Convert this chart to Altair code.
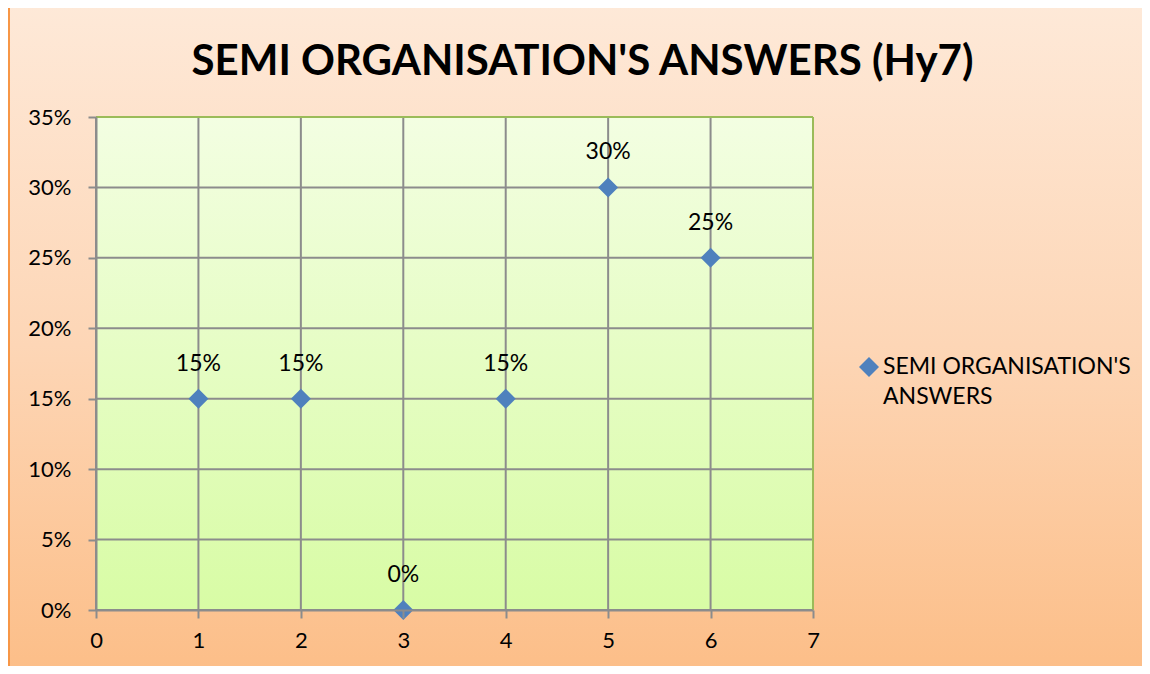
import altair as alt
import pandas as pd

# ---- data ----
questions = [1, 2, 3, 4, 5, 6]
shares = [0.15, 0.15, 0.00, 0.15, 0.30, 0.25]
series_name = "SEMI ORGANISATION'S ANSWERS"
legend_lines = [series_name[:19], series_name[20:]]
x_ticks = [0, 1, 2, 3, 4, 5, 6, 7]
y_ticks = [0.00, 0.05, 0.10, 0.15, 0.20, 0.25, 0.30, 0.35]
title_text = "SEMI ORGANISATION'S ANSWERS (Hy7)"

# ---- layout / style ----
W, H = 717, 493
PAD = {"left": 88, "top": 109, "right": 329, "bottom": 56}
FONT = "Lato"
GRID = "#8C8C8C"
GREEN = "#9BBB59"
BLUE = "#4F81BD"

df = pd.DataFrame({"q": questions, "share": shares,
                   "series": [series_name] * len(questions)})
one = pd.DataFrame({"k": [0]})
xt = pd.DataFrame({"v": x_ticks})
yt = pd.DataFrame({"v": y_ticks})

xs = alt.Scale(domain=[0, 7], nice=False, zero=False)
ys = alt.Scale(domain=[0, 0.35], nice=False)

axis_common = dict(
    grid=False, domainColor=GRID, domainWidth=2, tickColor=GRID, tickWidth=2,
    tickSize=8, labelFont=FONT, labelFontSize=22, labelColor="black",
    labelFlush=False, title=None, zindex=1,
)
x_axis = alt.Axis(values=x_ticks, labelPadding=12, **axis_common)
y_axis = alt.Axis(values=y_ticks, format=".0%", labelPadding=17, **axis_common)

outer_grad = alt.LinearGradient(
    gradient="linear", x1=0, x2=0, y1=0, y2=1,
    stops=[alt.GradientStop(offset=0, color="#FEE9D8"),
           alt.GradientStop(offset=0.5, color="#FDD6B6"),
           alt.GradientStop(offset=1, color="#FCBD86")])
plot_grad = alt.LinearGradient(
    gradient="linear", x1=0, x2=0, y1=0, y2=1,
    stops=[alt.GradientStop(offset=0, color="#F3FEE2"),
           alt.GradientStop(offset=1, color="#D8FCA5")])

outer_bg = alt.Chart(one).mark_rect(
    color=outer_grad, stroke="#F79646", strokeWidth=2
).encode(
    x=alt.value(-PAD["left"] + 1), x2=alt.value(W + PAD["right"] + 20),
    y=alt.value(-PAD["top"] - 3), y2=alt.value(H + PAD["bottom"] + 20),
)

plot_bg = alt.Chart(one).mark_rect(color=plot_grad).encode(
    x=alt.datum(0, scale=xs, axis=x_axis), x2=alt.datum(7),
    y=alt.datum(0, scale=ys, axis=y_axis), y2=alt.datum(0.35),
)

vgrid = alt.Chart(xt).mark_rule(color=GRID, strokeWidth=2).encode(
    x=alt.X("v:Q", scale=xs, axis=x_axis))
hgrid = alt.Chart(yt).mark_rule(color=GRID, strokeWidth=2).encode(
    y=alt.Y("v:Q", scale=ys, axis=y_axis))

top_border = alt.Chart(one).mark_rule(color=GREEN, strokeWidth=2).encode(
    y=alt.datum(0.35, scale=ys, axis=y_axis))
right_border = alt.Chart(one).mark_rule(color=GREEN, strokeWidth=2).encode(
    x=alt.datum(7, scale=xs, axis=x_axis))

points = alt.Chart(df).mark_point(
    shape="diamond", filled=True, size=400, opacity=1, color=BLUE
).encode(
    x=alt.X("q:Q", scale=xs, axis=x_axis),
    y=alt.Y("share:Q", scale=ys, axis=y_axis),
    tooltip=alt.Tooltip("series:N"),
)

labels = alt.Chart(df).mark_text(
    dy=-35, font=FONT, fontSize=23, color="black"
).encode(
    x=alt.X("q:Q", scale=xs, axis=x_axis),
    y=alt.Y("share:Q", scale=ys, axis=y_axis),
    text=alt.Text("share:Q", format=".0%"),
)

# legend (series key) at the right of the plot
legend_symbol = alt.Chart(one).mark_point(
    shape="diamond", filled=True, size=400, opacity=1, color=BLUE
).encode(x=alt.value(773), y=alt.value(250))
legend_text = alt.Chart(one).mark_text(
    align="left", baseline="middle", font=FONT, fontSize=23, color="black",
    lineHeight=30,
).encode(x=alt.value(787), y=alt.value(250), text=alt.value(legend_lines))

chart = alt.layer(
    outer_bg, plot_bg, vgrid, hgrid, top_border, right_border, points, labels,
    legend_symbol, legend_text,
).properties(
    width=W, height=H,
    padding=PAD,
    autosize=alt.AutoSizeParams(type="none"),
    title=alt.TitleParams(
        text=title_text, font=FONT, fontSize=42, fontWeight="bold",
        color="black", anchor="middle", frame="group", dx=128,
        baseline="alphabetic", offset=-113,
    ),
).configure_view(stroke=None)

chart.save("out.html", embed_options={"renderer": "svg", "actions": False})
